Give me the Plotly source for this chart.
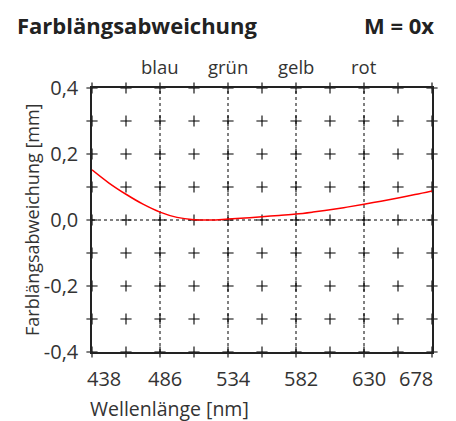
import plotly.graph_objects as go

# Wellenlaenge [nm] und Farblaengsabweichung [mm]
wellenlaenge = [438, 450, 462, 474, 486, 498, 510, 522, 534, 546, 558,
                570, 582, 594, 606, 618, 630, 642, 654, 666, 678]
abweichung = [0.152, 0.112, 0.078, 0.048, 0.024, 0.008, 0.001, 0.000, 0.003, 0.006, 0.010,
              0.014, 0.018, 0.024, 0.031, 0.039, 0.048, 0.057, 0.067, 0.077, 0.088]

x_ticks = [438, 462, 486, 510, 534, 558, 582, 606, 630, 654, 678]
x_labels = ["438", "486", "534", "582", "630", "678"]
y_ticks = [-0.4, -0.3, -0.2, -0.1, 0.0, 0.1, 0.2, 0.3, 0.4]
y_label_vals = [-0.4, -0.2, 0.0, 0.2, 0.4]
y_labels = ["-0,4", "-0,2", "0,0", "0,2", "0,4"]
farben = ["blau", "grün", "gelb", "rot"]
farb_x = [486, 534, 582, 630]

FONT = "Open Sans"
TXT = "#333333"

fig = go.Figure()

# Kreuze an allen Rasterpunkten (auch als Achsenstriche)
gx, gy = [], []
for xv in x_ticks:
    for yv in y_ticks:
        gx.append(xv)
        gy.append(yv)
fig.add_trace(go.Scatter(x=gx, y=gy, mode="markers", cliponaxis=False,
                         marker=dict(symbol="cross-thin", size=8,
                                     line=dict(color="black", width=1.1)),
                         hoverinfo="skip", showlegend=False))

for xv in farb_x:
    fig.add_vline(x=xv, line=dict(color="black", width=1, dash="dot"), layer="below")
fig.add_hline(y=0, line=dict(color="black", width=1, dash="dot"), layer="below")

fig.add_trace(go.Scatter(x=wellenlaenge, y=abweichung, mode="lines",
                         line=dict(color="#ff0000", width=1.5, shape="spline"),
                         showlegend=False))

# Seite hat 8px Rand -> Figur etwas kleiner
OFF = 8
W, H = 456 - OFF, 421 - OFF
L, R, T, B = 92 - OFF, 24, 88 - OFF, 69
pw = W - L - R
ph = H - T - B

fig.update_layout(
    width=W, height=H,
    margin=dict(l=L, r=R, t=T, b=B),
    paper_bgcolor="white", plot_bgcolor="white",
    font=dict(family=FONT, color=TXT, size=19),
    xaxis=dict(range=[438, 678], showticklabels=False,
               showgrid=False, zeroline=False, showline=True, mirror=True,
               linecolor="#222", linewidth=1.5, ticks=""),
    yaxis=dict(range=[-0.4, 0.4], tickvals=y_label_vals, ticktext=y_labels,
               showgrid=False, zeroline=False, showline=True, mirror=True,
               linecolor="#222", linewidth=1.5, ticks="", ticklabelstandoff=8,
               tickfont=dict(size=20, color=TXT, family=FONT)),
)

# x-Beschriftung: Rand-Labels nach innen geschoben wie im Original
for i, lab in enumerate(x_labels):
    if i == 0:
        anchor, shift = "left", -7
    elif i == len(x_labels) - 1:
        anchor, shift = "right", 3
    else:
        anchor, shift = "center", 5
    fig.add_annotation(text=lab, x=float(lab), xref="x", y=0, yref="paper",
                       xanchor=anchor, yanchor="middle", xshift=shift, yshift=-26,
                       showarrow=False, font=dict(size=20, color=TXT, family=FONT))

for name, xv in zip(farben, farb_x):
    fig.add_annotation(text=name, x=xv, xref="x", y=1, yref="paper",
                       yanchor="middle", yshift=22,
                       showarrow=False, font=dict(size=18.5, color=TXT, family=FONT))

ty = 1 + (88 - 25) / ph
fig.add_annotation(text="<b>Farblängsabweichung</b>", xref="paper", yref="paper",
                   x=(15 - 92) / pw, y=ty, xanchor="left", yanchor="middle",
                   showarrow=False, font=dict(size=22, color="#222", family=FONT))
fig.add_annotation(text="<b>M = 0x</b>", xref="paper", yref="paper",
                   x=1, xshift=4, y=ty, xanchor="right", yanchor="middle",
                   showarrow=False, font=dict(size=22, color="#222", family=FONT))
fig.add_annotation(text="Farblängsabweichung [mm]", xref="paper", yref="paper",
                   x=(18 - 92) / pw, y=0.5, textangle=-90, showarrow=False,
                   font=dict(size=18, color=TXT, family=FONT))
fig.add_annotation(text="Wellenlänge [nm]", xref="paper", yref="paper",
                   x=(88 - 92) / pw, xanchor="left", y=-(408 - 352) / ph, yanchor="middle",
                   showarrow=False, font=dict(size=19.5, color=TXT, family=FONT))

fig.write_html("out.html")
